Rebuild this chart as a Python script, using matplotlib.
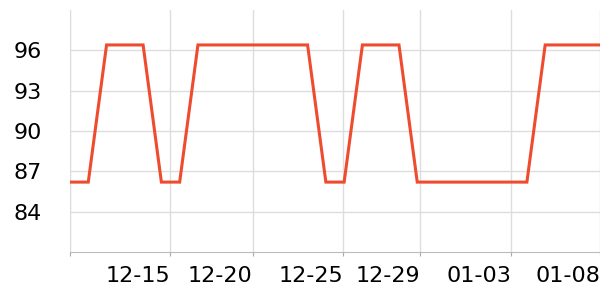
import numpy as np
import matplotlib.pyplot as plt

# daily readings (high ~96.4, low ~86.2)
values = [86.2, 86.2, 96.4, 96.4, 96.4, 86.2, 86.2, 96.4, 96.4, 96.4,
          96.4, 96.4, 96.4, 96.4, 86.2, 86.2, 96.4, 96.4, 96.4, 86.2,
          86.2, 86.2, 86.2, 86.2, 86.2, 86.2, 96.4, 96.4, 96.4, 96.4]
tick_labels = ["", "12-15", "12-20", "12-25", "12-29", "01-03", "01-08"]
tick_pos = [0, 5.47, 9.99, 14.95, 19.17, 24.15, 29]
y_ticks = [84, 87, 90, 93, 96]

x = np.arange(len(values))

fig = plt.figure(figsize=(6, 3), dpi=100)
ax = fig.add_axes([70 / 600, 48 / 300, 530 / 600, 242 / 300])

ax.plot(x, values, color='#ee4b2f', linewidth=2.2, solid_joinstyle='miter', zorder=3)

ax.set_xlim(0, len(values) - 1)
ax.set_ylim(81, 99)
ax.set_yticks(y_ticks)
ax.set_xticks(tick_pos)
ax.set_xticklabels(tick_labels, ha='right')

ax.grid(True, color='#dddddd', linewidth=1)
ax.tick_params(axis='y', length=0, pad=20, labelsize=16)
ax.tick_params(axis='x', length=3, color='#aaaaaa', pad=7, labelsize=16)

for side in ['top', 'right']:
    ax.spines[side].set_visible(False)
ax.spines['left'].set_color('#dddddd')
ax.spines['bottom'].set_color('#bbbbbb')

fig.savefig('out.png', dpi=100)
